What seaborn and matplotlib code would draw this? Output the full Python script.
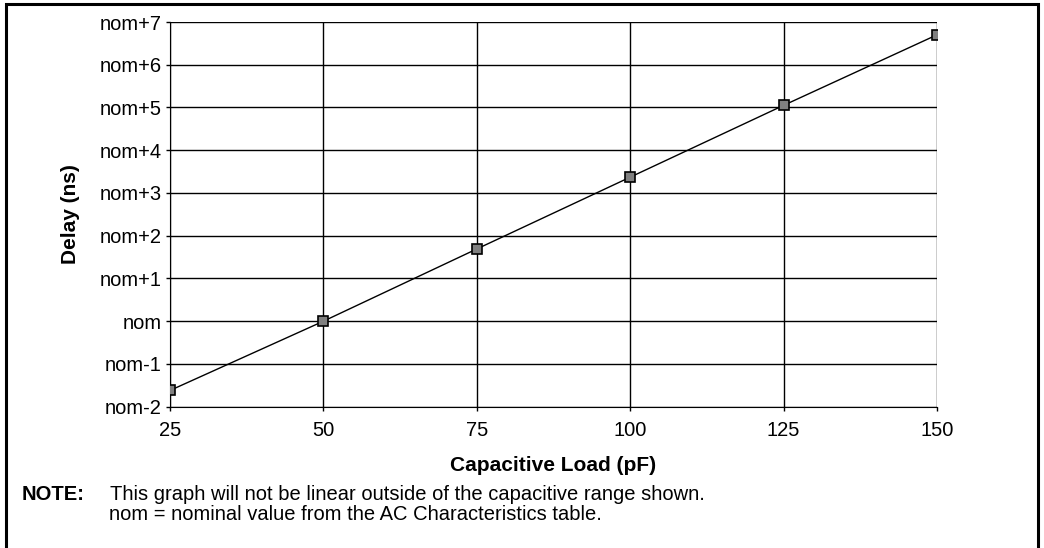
import matplotlib
matplotlib.use("Agg")
import matplotlib.pyplot as plt
import seaborn as sns
import pandas as pd

load_pf = [25, 50, 75, 100, 125, 150]
delay_ns = [-1.62, 0.0, 1.69, 3.37, 5.05, 6.70]
y_ticks = [-2, -1, 0, 1, 2, 3, 4, 5, 6, 7]
y_labels = ["nom-2", "nom-1", "nom", "nom+1", "nom+2", "nom+3", "nom+4", "nom+5", "nom+6", "nom+7"]
x_ticks = [25, 50, 75, 100, 125, 150]

sns.set_style("white")
plt.rcParams['font.family'] = ['Liberation Sans', 'DejaVu Sans']
plt.rcParams['text.color'] = 'black'
plt.rcParams['axes.labelcolor'] = 'black'

df = pd.DataFrame({"load": load_pf, "delay": delay_ns})

fig = plt.figure(figsize=(10.44, 5.48), dpi=100)
ax = fig.add_axes([170/1044, 1 - 406.7/548, (937-170)/1044, (406.7-22)/548])

sns.lineplot(data=df, x="load", y="delay", ax=ax, color="black", linewidth=1.0,
             marker="s", markersize=7.5, markerfacecolor="#808080",
             markeredgecolor="black", markeredgewidth=1.2, zorder=5)

ax.set_xlim(25, 150)
ax.set_ylim(-2, 7)
ax.set_xticks(x_ticks)
ax.set_yticks(y_ticks)
ax.set_yticklabels(y_labels)
ax.grid(True, color="black", linewidth=1.0)
for s in ax.spines.values():
    s.set_visible(False)
ax.spines['left'].set_visible(True)
ax.spines['bottom'].set_visible(True)
ax.spines['left'].set_color("black")
ax.spines['bottom'].set_color("black")
ax.tick_params(axis='both', which='both', length=3, width=1, color="black",
               labelsize=14.5, colors="black", pad=3, direction='out',
               bottom=True, left=True)
ax.tick_params(axis='x', pad=7)

ax.set_xlabel("Capacitive Load (pF)", fontsize=15, fontweight="bold", labelpad=12)
ax.set_ylabel("Delay (ns)", fontsize=15, fontweight="bold", labelpad=14)

fig.text(22/1044, 1 - 495/548, "NOTE:", fontsize=14.5, fontweight="bold", va="center", ha="left")
fig.text(110/1044, 1 - 495/548, "This graph will not be linear outside of the capacitive range shown.",
         fontsize=14.5, va="center", ha="left")
fig.text(109/1044, 1 - 515/548, "nom = nominal value from the AC Characteristics table.",
         fontsize=14.5, va="center", ha="left")

border = plt.Rectangle((6/1044, -0.05), (1038-6)/1044, 1.05 - 4/548, transform=fig.transFigure,
                       fill=False, edgecolor="black", linewidth=2.2, clip_on=False)
fig.add_artist(border)

fig.savefig("out.png", dpi=100, facecolor="white")
